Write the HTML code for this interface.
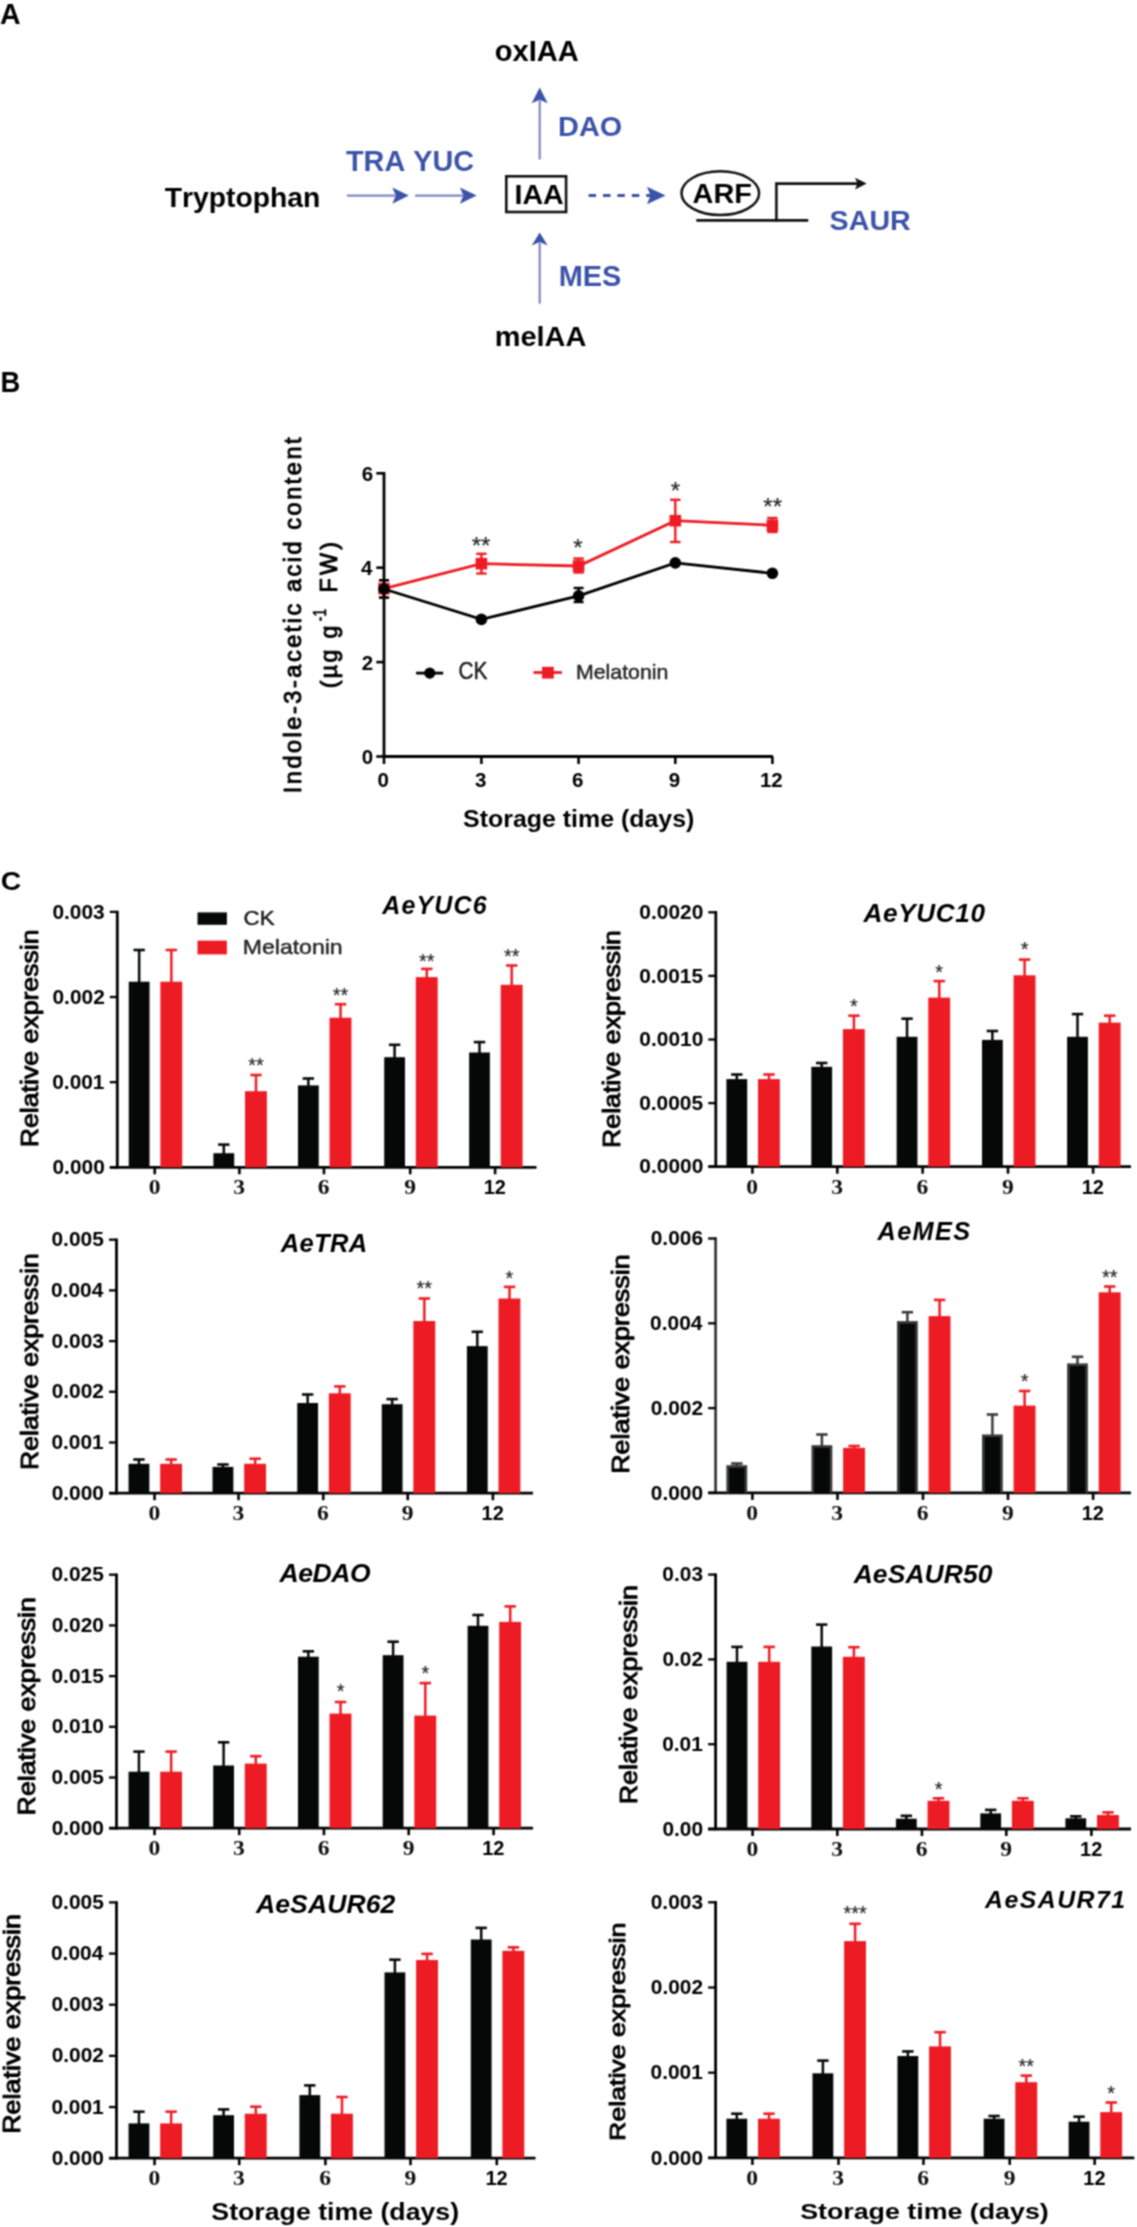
<!DOCTYPE html>
<html><head><meta charset="utf-8"><title>Figure</title>
<style>html,body{margin:0;padding:0;background:#fff;} svg{display:block;will-change:transform;} text{font-kerning:none;}</style>
</head><body>
<svg width="1137" height="2227" viewBox="0 0 1137 2227">
<defs><filter id="bl" filterUnits="userSpaceOnUse" x="0" y="0" width="1137" height="2227" color-interpolation-filters="sRGB"><feConvolveMatrix order="3" kernelMatrix="1 2 1 2 4 2 1 2 1" divisor="16.0" edgeMode="duplicate" preserveAlpha="true"/></filter></defs>
<g filter="url(#bl)">
<rect width="1137" height="2227" fill="#fff"/>
<text transform="translate(-0.11,23.55) scale(0.9937,1)" font-size="28.69" font-family='"Liberation Sans", sans-serif' font-weight="bold" font-style="normal" fill="#000">A</text>
<text transform="translate(494.79,60.75) scale(1.0034,1)" font-size="28.98" font-family='"Liberation Sans", sans-serif' font-weight="bold" font-style="normal" fill="#000">oxIAA</text>
<text transform="translate(558.02,135.75) scale(1.0122,1)" font-size="28.56" font-family='"Liberation Sans", sans-serif' font-weight="bold" font-style="normal" fill="#3c53a8">DAO</text>
<text transform="translate(345.96,170.55) scale(0.9942,1)" font-size="29.00" font-family='"Liberation Sans", sans-serif' font-weight="bold" font-style="normal" fill="#3c53a8">TRA YUC</text>
<text transform="translate(164.67,206.55) scale(1.0289,1)" font-size="27.51" font-family='"Liberation Sans", sans-serif' font-weight="bold" font-style="normal" fill="#000">Tryptophan</text>
<text transform="translate(514.54,203.55) scale(1.0442,1)" font-size="27.38" font-family='"Liberation Sans", sans-serif' font-weight="bold" font-style="normal" fill="#000">IAA</text>
<text transform="translate(692.58,203.25) scale(1.0706,1)" font-size="26.94" font-family='"Liberation Sans", sans-serif' font-weight="bold" font-style="normal" fill="#000">ARF</text>
<text transform="translate(829.59,229.55) scale(1.0087,1)" font-size="28.42" font-family='"Liberation Sans", sans-serif' font-weight="bold" font-style="normal" fill="#3c53a8">SAUR</text>
<text transform="translate(558.72,285.65) scale(0.9978,1)" font-size="29.00" font-family='"Liberation Sans", sans-serif' font-weight="bold" font-style="normal" fill="#3c53a8">MES</text>
<text transform="translate(494.72,346.25) scale(1.0474,1)" font-size="27.65" font-family='"Liberation Sans", sans-serif' font-weight="bold" font-style="normal" fill="#000">melAA</text>
<line x1="539.70" y1="159.40" x2="539.70" y2="100.30" stroke="#7f84c3" stroke-width="2.2" />
<polygon points="539.70,87.60 531.70,103.30 539.70,99.80 547.70,103.30" fill="#3c53a8"/>
<line x1="539.70" y1="303.70" x2="539.70" y2="242.60" stroke="#7f84c3" stroke-width="2.2" />
<polygon points="539.70,232.40 531.70,245.60 539.70,242.10 547.70,245.60" fill="#3c53a8"/>
<line x1="346.90" y1="195.60" x2="395.30" y2="195.60" stroke="#7f84c3" stroke-width="2.2" />
<polygon points="408.80,195.60 392.30,187.40 395.80,195.60 392.30,203.80" fill="#3c53a8"/>
<line x1="415.10" y1="195.60" x2="462.90" y2="195.60" stroke="#7f84c3" stroke-width="2.2" />
<polygon points="476.70,195.60 459.90,187.40 463.40,195.60 459.90,203.80" fill="#3c53a8"/>
<line x1="588.60" y1="195.50" x2="651.00" y2="195.50" stroke="#3c53a8" stroke-width="3.0" stroke-dasharray="7.5,6.9"/>
<polygon points="665.60,195.50 647.00,186.70 650.50,195.50 647.00,204.30" fill="#3c53a8"/>
<rect x="506.3" y="176.3" width="59.8" height="35.7" fill="none" stroke="#111" stroke-width="2.6"/>
<ellipse cx="720.3" cy="193.2" rx="38.8" ry="21.9" fill="none" stroke="#111" stroke-width="2.5"/>
<polyline points="696.3,220.4 808.3,220.4" fill="none" stroke="#111" stroke-width="2.8"/>
<polyline points="776.4,221.5 776.4,183.6 858,183.6" fill="none" stroke="#111" stroke-width="2.6"/>
<polygon points="866.70,183.60 855.00,177.80 857.50,183.60 855.00,189.40" fill="#111"/>
<text transform="translate(0.52,391.95) scale(0.9494,1)" font-size="28.83" font-family='"Liberation Sans", sans-serif' font-weight="bold" font-style="normal" fill="#000">B</text>
<line x1="384.00" y1="472.00" x2="384.00" y2="757.80" stroke="#000" stroke-width="2.8" />
<line x1="382.70" y1="756.50" x2="773.00" y2="756.50" stroke="#000" stroke-width="2.8" />
<line x1="376.30" y1="756.50" x2="384.00" y2="756.50" stroke="#000" stroke-width="2.6" />
<text transform="translate(361.71,764.00) scale(1.0000,1)" font-size="20.50" font-family='"Liberation Sans", sans-serif' font-weight="bold" font-style="normal" fill="#000">0</text>
<line x1="376.30" y1="662.10" x2="384.00" y2="662.10" stroke="#000" stroke-width="2.6" />
<text transform="translate(361.71,669.60) scale(1.0000,1)" font-size="20.50" font-family='"Liberation Sans", sans-serif' font-weight="bold" font-style="normal" fill="#000">2</text>
<line x1="376.30" y1="567.70" x2="384.00" y2="567.70" stroke="#000" stroke-width="2.6" />
<text transform="translate(361.03,575.20) scale(1.0000,1)" font-size="20.50" font-family='"Liberation Sans", sans-serif' font-weight="bold" font-style="normal" fill="#000">4</text>
<line x1="376.30" y1="473.30" x2="384.00" y2="473.30" stroke="#000" stroke-width="2.6" />
<text transform="translate(361.64,480.80) scale(1.0000,1)" font-size="20.50" font-family='"Liberation Sans", sans-serif' font-weight="bold" font-style="normal" fill="#000">6</text>
<line x1="384.00" y1="756.50" x2="384.00" y2="764.00" stroke="#000" stroke-width="2.6" />
<text transform="translate(377.49,787.40) scale(1.0000,1)" font-size="20.50" font-family='"Liberation Sans", sans-serif' font-weight="bold" font-style="normal" fill="#000">0</text>
<line x1="481.40" y1="756.50" x2="481.40" y2="764.00" stroke="#000" stroke-width="2.6" />
<text transform="translate(475.03,787.40) scale(1.0000,1)" font-size="20.50" font-family='"Liberation Sans", sans-serif' font-weight="bold" font-style="normal" fill="#000">3</text>
<line x1="578.60" y1="756.50" x2="578.60" y2="764.00" stroke="#000" stroke-width="2.6" />
<text transform="translate(572.09,787.40) scale(1.0000,1)" font-size="20.50" font-family='"Liberation Sans", sans-serif' font-weight="bold" font-style="normal" fill="#000">6</text>
<line x1="675.30" y1="756.50" x2="675.30" y2="764.00" stroke="#000" stroke-width="2.6" />
<text transform="translate(668.83,787.40) scale(1.0000,1)" font-size="20.50" font-family='"Liberation Sans", sans-serif' font-weight="bold" font-style="normal" fill="#000">9</text>
<line x1="772.40" y1="756.50" x2="772.40" y2="764.00" stroke="#000" stroke-width="2.6" />
<text transform="translate(759.95,787.40) scale(1.0000,1)" font-size="20.50" font-family='"Liberation Sans", sans-serif' font-weight="bold" font-style="normal" fill="#000">12</text>
<polyline points="384.0,588.6 481.4,563.7 578.6,566.0 675.3,520.7 772.4,525.3" fill="none" stroke="#ed1c24" stroke-width="2.8"/>
<line x1="384.00" y1="580.20" x2="384.00" y2="597.60" stroke="#ed1c24" stroke-width="2.4" />
<line x1="378.80" y1="580.20" x2="389.20" y2="580.20" stroke="#ed1c24" stroke-width="2.4" />
<line x1="378.80" y1="597.60" x2="389.20" y2="597.60" stroke="#ed1c24" stroke-width="2.4" />
<rect x="378.20" y="582.80" width="11.60" height="11.60" fill="#ed1c24"/>
<line x1="481.40" y1="553.80" x2="481.40" y2="573.50" stroke="#ed1c24" stroke-width="2.4" />
<line x1="476.20" y1="553.80" x2="486.60" y2="553.80" stroke="#ed1c24" stroke-width="2.4" />
<line x1="476.20" y1="573.50" x2="486.60" y2="573.50" stroke="#ed1c24" stroke-width="2.4" />
<rect x="475.60" y="557.90" width="11.60" height="11.60" fill="#ed1c24"/>
<line x1="578.60" y1="558.50" x2="578.60" y2="572.50" stroke="#ed1c24" stroke-width="2.4" />
<line x1="573.40" y1="558.50" x2="583.80" y2="558.50" stroke="#ed1c24" stroke-width="2.4" />
<line x1="573.40" y1="572.50" x2="583.80" y2="572.50" stroke="#ed1c24" stroke-width="2.4" />
<rect x="572.80" y="560.20" width="11.60" height="11.60" fill="#ed1c24"/>
<line x1="675.30" y1="499.80" x2="675.30" y2="542.00" stroke="#ed1c24" stroke-width="2.4" />
<line x1="670.10" y1="499.80" x2="680.50" y2="499.80" stroke="#ed1c24" stroke-width="2.4" />
<line x1="670.10" y1="542.00" x2="680.50" y2="542.00" stroke="#ed1c24" stroke-width="2.4" />
<rect x="669.50" y="514.90" width="11.60" height="11.60" fill="#ed1c24"/>
<line x1="772.40" y1="518.00" x2="772.40" y2="532.00" stroke="#ed1c24" stroke-width="2.4" />
<line x1="767.20" y1="518.00" x2="777.60" y2="518.00" stroke="#ed1c24" stroke-width="2.4" />
<line x1="767.20" y1="532.00" x2="777.60" y2="532.00" stroke="#ed1c24" stroke-width="2.4" />
<rect x="766.60" y="519.50" width="11.60" height="11.60" fill="#ed1c24"/>
<polyline points="384.0,589.0 481.4,619.4 578.6,595.8 675.3,562.9 772.4,573.3" fill="none" stroke="#000" stroke-width="2.8"/>
<line x1="384.00" y1="580.20" x2="384.00" y2="597.60" stroke="#000" stroke-width="2.4" />
<line x1="379.00" y1="580.20" x2="389.00" y2="580.20" stroke="#000" stroke-width="2.4" />
<line x1="379.00" y1="597.60" x2="389.00" y2="597.60" stroke="#000" stroke-width="2.4" />
<circle cx="384.0" cy="589.0" r="5.8" fill="#000"/>
<circle cx="481.4" cy="619.4" r="5.8" fill="#000"/>
<line x1="578.60" y1="588.00" x2="578.60" y2="602.00" stroke="#000" stroke-width="2.4" />
<line x1="573.60" y1="588.00" x2="583.60" y2="588.00" stroke="#000" stroke-width="2.4" />
<line x1="573.60" y1="602.00" x2="583.60" y2="602.00" stroke="#000" stroke-width="2.4" />
<circle cx="578.6" cy="595.8" r="5.8" fill="#000"/>
<circle cx="675.3" cy="562.9" r="5.8" fill="#000"/>
<circle cx="772.4" cy="573.3" r="5.8" fill="#000"/>
<text x="471.74" y="554.08" font-size="24.00" font-family='"Liberation Sans", sans-serif' font-weight="normal" font-style="normal" fill="#222" stroke="#222" stroke-width="0.15" stroke-linejoin="round">**</text>
<text x="573.22" y="556.28" font-size="24.00" font-family='"Liberation Sans", sans-serif' font-weight="normal" font-style="normal" fill="#222" stroke="#222" stroke-width="0.15" stroke-linejoin="round">*</text>
<text x="670.82" y="498.68" font-size="24.00" font-family='"Liberation Sans", sans-serif' font-weight="normal" font-style="normal" fill="#222" stroke="#222" stroke-width="0.15" stroke-linejoin="round">*</text>
<text x="763.34" y="515.28" font-size="24.00" font-family='"Liberation Sans", sans-serif' font-weight="normal" font-style="normal" fill="#222" stroke="#222" stroke-width="0.15" stroke-linejoin="round">**</text>
<line x1="416.10" y1="673.10" x2="443.20" y2="673.10" stroke="#000" stroke-width="2.8" />
<circle cx="429.8" cy="673.1" r="5.6" fill="#000"/>
<text transform="translate(458.43,678.83) scale(0.8881,1)" font-size="23.47" font-family='"Liberation Sans", sans-serif' font-weight="normal" font-style="normal" fill="#1c1c1c" stroke="#1c1c1c" stroke-width="0.45" stroke-linejoin="round">CK</text>
<line x1="533.50" y1="672.50" x2="561.90" y2="672.50" stroke="#ed1c24" stroke-width="2.8" />
<rect x="542.00" y="666.80" width="11.80" height="11.80" fill="#ed1c24"/>
<text transform="translate(576.00,678.73) scale(1.0525,1)" font-size="20.25" font-family='"Liberation Sans", sans-serif' font-weight="normal" font-style="normal" fill="#262626" stroke="#262626" stroke-width="0.45" stroke-linejoin="round">Melatonin</text>
<text transform="translate(463.10,826.95) scale(1.0731,1)" font-size="23.23" font-family='"Liberation Sans", sans-serif' font-weight="bold" font-style="normal" fill="#000">Storage time (days)</text>
<text transform="translate(301.47,793.28) rotate(-90)" font-size="23.57" letter-spacing="2.508" font-family='"Liberation Sans", sans-serif' font-weight="normal" font-style="normal" fill="#000" stroke="#000" stroke-width="0.95" stroke-linejoin="round">Indole-3-acetic acid content</text>
<text transform="translate(336.88,688.15) rotate(-90)" font-size="23.29" letter-spacing="2.250" font-family='"Liberation Sans", sans-serif' font-weight="normal" font-style="normal" fill="#000" stroke="#000" stroke-width="0.95" stroke-linejoin="round">(µg g</text>
<text transform="translate(336.88,592.52) rotate(-90)" font-size="23.29" letter-spacing="3.258" font-family='"Liberation Sans", sans-serif' font-weight="normal" font-style="normal" fill="#000" stroke="#000" stroke-width="0.95" stroke-linejoin="round">FW)</text>
<text transform="translate(325.60,621.53) rotate(-90) scale(0.8129,1)" font-size="17.91" font-family='"Liberation Sans", sans-serif' font-weight="normal" font-style="normal" fill="#000" stroke="#000" stroke-width="0.5" stroke-linejoin="round">-1</text>
<text transform="translate(0.72,889.85) scale(1.0959,1)" font-size="25.84" font-family='"Liberation Sans", sans-serif' font-weight="bold" font-style="normal" fill="#000">C</text>
<line x1="117.30" y1="910.70" x2="117.30" y2="1168.50" stroke="#000" stroke-width="2.8" />
<line x1="109.80" y1="1167.30" x2="536.50" y2="1167.30" stroke="#000" stroke-width="2.8" />
<line x1="109.80" y1="1167.30" x2="117.30" y2="1167.30" stroke="#000" stroke-width="2.3" />
<text transform="translate(52.49,1173.90) scale(1.0200,1)" font-size="20.50" font-family='"Liberation Sans", sans-serif' font-weight="bold" font-style="normal" fill="#000">0.000</text>
<line x1="109.80" y1="1082.17" x2="117.30" y2="1082.17" stroke="#000" stroke-width="2.3" />
<text transform="translate(52.21,1088.77) scale(1.0200,1)" font-size="20.50" font-family='"Liberation Sans", sans-serif' font-weight="bold" font-style="normal" fill="#000">0.001</text>
<line x1="109.80" y1="997.03" x2="117.30" y2="997.03" stroke="#000" stroke-width="2.3" />
<text transform="translate(52.49,1003.63) scale(1.0200,1)" font-size="20.50" font-family='"Liberation Sans", sans-serif' font-weight="bold" font-style="normal" fill="#000">0.002</text>
<line x1="109.80" y1="911.90" x2="117.30" y2="911.90" stroke="#000" stroke-width="2.3" />
<text transform="translate(52.42,918.50) scale(1.0200,1)" font-size="20.50" font-family='"Liberation Sans", sans-serif' font-weight="bold" font-style="normal" fill="#000">0.003</text>
<line x1="154.75" y1="1167.30" x2="154.75" y2="1174.30" stroke="#000" stroke-width="2.6" />
<text transform="translate(148.66,1194.30) scale(1.1500,1)" font-size="20.50" font-family='"Liberation Serif", serif' font-weight="bold" font-style="normal" fill="#111">0</text>
<line x1="239.40" y1="1167.30" x2="239.40" y2="1174.30" stroke="#000" stroke-width="2.6" />
<text transform="translate(233.27,1194.30) scale(1.1500,1)" font-size="20.50" font-family='"Liberation Serif", serif' font-weight="bold" font-style="normal" fill="#111">3</text>
<line x1="323.95" y1="1167.30" x2="323.95" y2="1174.30" stroke="#000" stroke-width="2.6" />
<text transform="translate(317.82,1194.30) scale(1.1500,1)" font-size="20.50" font-family='"Liberation Serif", serif' font-weight="bold" font-style="normal" fill="#111">6</text>
<line x1="410.20" y1="1167.30" x2="410.20" y2="1174.30" stroke="#000" stroke-width="2.6" />
<text transform="translate(404.22,1194.30) scale(1.1500,1)" font-size="20.50" font-family='"Liberation Serif", serif' font-weight="bold" font-style="normal" fill="#111">9</text>
<line x1="495.10" y1="1167.30" x2="495.10" y2="1174.30" stroke="#000" stroke-width="2.6" />
<text transform="translate(483.73,1194.30) scale(1.0000,1)" font-size="20.00" font-family='"Liberation Sans", sans-serif' font-weight="bold" font-style="normal" fill="#000">12</text>
<line x1="139.15" y1="950.00" x2="139.15" y2="982.70" stroke="#060808" stroke-width="2.5" />
<line x1="133.45" y1="950.00" x2="144.85" y2="950.00" stroke="#060808" stroke-width="2.6" />
<rect x="128.75" y="981.70" width="20.80" height="185.60" fill="#060808"/>
<line x1="171.35" y1="950.00" x2="171.35" y2="982.70" stroke="#ed1c24" stroke-width="2.5" />
<line x1="165.65" y1="950.00" x2="177.05" y2="950.00" stroke="#ed1c24" stroke-width="2.6" />
<rect x="160.35" y="981.70" width="21.90" height="185.60" fill="#ed1c24"/>
<line x1="223.80" y1="1144.60" x2="223.80" y2="1154.20" stroke="#060808" stroke-width="2.5" />
<line x1="218.10" y1="1144.60" x2="229.50" y2="1144.60" stroke="#060808" stroke-width="2.6" />
<rect x="213.40" y="1153.20" width="20.80" height="14.10" fill="#060808"/>
<line x1="256.00" y1="1075.00" x2="256.00" y2="1092.20" stroke="#ed1c24" stroke-width="2.5" />
<line x1="250.30" y1="1075.00" x2="261.70" y2="1075.00" stroke="#ed1c24" stroke-width="2.6" />
<rect x="245.00" y="1091.20" width="21.90" height="76.10" fill="#ed1c24"/>
<line x1="308.35" y1="1078.50" x2="308.35" y2="1086.40" stroke="#060808" stroke-width="2.5" />
<line x1="302.65" y1="1078.50" x2="314.05" y2="1078.50" stroke="#060808" stroke-width="2.6" />
<rect x="297.95" y="1085.40" width="20.80" height="81.90" fill="#060808"/>
<line x1="340.55" y1="1004.20" x2="340.55" y2="1018.70" stroke="#ed1c24" stroke-width="2.5" />
<line x1="334.85" y1="1004.20" x2="346.25" y2="1004.20" stroke="#ed1c24" stroke-width="2.6" />
<rect x="329.55" y="1017.70" width="21.90" height="149.60" fill="#ed1c24"/>
<line x1="394.60" y1="1044.80" x2="394.60" y2="1058.20" stroke="#060808" stroke-width="2.5" />
<line x1="388.90" y1="1044.80" x2="400.30" y2="1044.80" stroke="#060808" stroke-width="2.6" />
<rect x="384.20" y="1057.20" width="20.80" height="110.10" fill="#060808"/>
<line x1="426.80" y1="968.90" x2="426.80" y2="978.10" stroke="#ed1c24" stroke-width="2.5" />
<line x1="421.10" y1="968.90" x2="432.50" y2="968.90" stroke="#ed1c24" stroke-width="2.6" />
<rect x="415.80" y="977.10" width="21.90" height="190.20" fill="#ed1c24"/>
<line x1="479.50" y1="1042.10" x2="479.50" y2="1053.50" stroke="#060808" stroke-width="2.5" />
<line x1="473.80" y1="1042.10" x2="485.20" y2="1042.10" stroke="#060808" stroke-width="2.6" />
<rect x="469.10" y="1052.50" width="20.80" height="114.80" fill="#060808"/>
<line x1="511.70" y1="965.50" x2="511.70" y2="985.80" stroke="#ed1c24" stroke-width="2.5" />
<line x1="506.00" y1="965.50" x2="517.40" y2="965.50" stroke="#ed1c24" stroke-width="2.6" />
<rect x="500.70" y="984.80" width="21.90" height="182.50" fill="#ed1c24"/>
<text x="248.20" y="1072.43" font-size="20.00" font-family='"Liberation Sans", sans-serif' font-weight="normal" font-style="normal" fill="#1a1a1a" stroke="#1a1a1a" stroke-width="0.15" stroke-linejoin="round">**</text>
<text x="332.75" y="1001.93" font-size="20.00" font-family='"Liberation Sans", sans-serif' font-weight="normal" font-style="normal" fill="#1a1a1a" stroke="#1a1a1a" stroke-width="0.15" stroke-linejoin="round">**</text>
<text x="419.00" y="967.83" font-size="20.00" font-family='"Liberation Sans", sans-serif' font-weight="normal" font-style="normal" fill="#1a1a1a" stroke="#1a1a1a" stroke-width="0.15" stroke-linejoin="round">**</text>
<text x="503.90" y="963.23" font-size="20.00" font-family='"Liberation Sans", sans-serif' font-weight="normal" font-style="normal" fill="#1a1a1a" stroke="#1a1a1a" stroke-width="0.15" stroke-linejoin="round">**</text>
<text x="382.35" y="913.75" font-size="24.98" letter-spacing="1.149" font-family='"Liberation Sans", sans-serif' font-weight="bold" font-style="italic" fill="#000">AeYUC6</text>
<text transform="translate(37.58,1147.20) rotate(-90) scale(1.0928,1)" font-size="24.40" font-family='"Liberation Sans", sans-serif' font-weight="normal" font-style="normal" fill="#000" stroke="#000" stroke-width="0.95" stroke-linejoin="round">Relative expressin</text>
<line x1="715.80" y1="911.10" x2="715.80" y2="1167.90" stroke="#000" stroke-width="2.8" />
<line x1="708.30" y1="1166.70" x2="1131.00" y2="1166.70" stroke="#000" stroke-width="2.8" />
<line x1="708.30" y1="1166.70" x2="715.80" y2="1166.70" stroke="#000" stroke-width="2.3" />
<text transform="translate(639.35,1173.30) scale(1.0200,1)" font-size="20.50" font-family='"Liberation Sans", sans-serif' font-weight="bold" font-style="normal" fill="#000">0.0000</text>
<line x1="708.30" y1="1103.10" x2="715.80" y2="1103.10" stroke="#000" stroke-width="2.3" />
<text transform="translate(639.14,1109.70) scale(1.0200,1)" font-size="20.50" font-family='"Liberation Sans", sans-serif' font-weight="bold" font-style="normal" fill="#000">0.0005</text>
<line x1="708.30" y1="1039.50" x2="715.80" y2="1039.50" stroke="#000" stroke-width="2.3" />
<text transform="translate(639.35,1046.10) scale(1.0200,1)" font-size="20.50" font-family='"Liberation Sans", sans-serif' font-weight="bold" font-style="normal" fill="#000">0.0010</text>
<line x1="708.30" y1="975.90" x2="715.80" y2="975.90" stroke="#000" stroke-width="2.3" />
<text transform="translate(639.14,982.50) scale(1.0200,1)" font-size="20.50" font-family='"Liberation Sans", sans-serif' font-weight="bold" font-style="normal" fill="#000">0.0015</text>
<line x1="708.30" y1="912.30" x2="715.80" y2="912.30" stroke="#000" stroke-width="2.3" />
<text transform="translate(639.35,918.90) scale(1.0200,1)" font-size="20.50" font-family='"Liberation Sans", sans-serif' font-weight="bold" font-style="normal" fill="#000">0.0020</text>
<line x1="752.40" y1="1166.70" x2="752.40" y2="1173.70" stroke="#000" stroke-width="2.6" />
<text transform="translate(746.31,1193.70) scale(1.1500,1)" font-size="20.50" font-family='"Liberation Serif", serif' font-weight="bold" font-style="normal" fill="#111">0</text>
<line x1="837.30" y1="1166.70" x2="837.30" y2="1173.70" stroke="#000" stroke-width="2.6" />
<text transform="translate(831.17,1193.70) scale(1.1500,1)" font-size="20.50" font-family='"Liberation Serif", serif' font-weight="bold" font-style="normal" fill="#111">3</text>
<line x1="922.65" y1="1166.70" x2="922.65" y2="1173.70" stroke="#000" stroke-width="2.6" />
<text transform="translate(916.52,1193.70) scale(1.1500,1)" font-size="20.50" font-family='"Liberation Serif", serif' font-weight="bold" font-style="normal" fill="#111">6</text>
<line x1="1008.00" y1="1166.70" x2="1008.00" y2="1173.70" stroke="#000" stroke-width="2.6" />
<text transform="translate(1002.02,1193.70) scale(1.1500,1)" font-size="20.50" font-family='"Liberation Serif", serif' font-weight="bold" font-style="normal" fill="#111">9</text>
<line x1="1093.10" y1="1166.70" x2="1093.10" y2="1173.70" stroke="#000" stroke-width="2.6" />
<text transform="translate(1081.73,1193.70) scale(1.0000,1)" font-size="20.00" font-family='"Liberation Sans", sans-serif' font-weight="bold" font-style="normal" fill="#000">12</text>
<line x1="736.80" y1="1074.50" x2="736.80" y2="1080.10" stroke="#060808" stroke-width="2.5" />
<line x1="731.10" y1="1074.50" x2="742.50" y2="1074.50" stroke="#060808" stroke-width="2.6" />
<rect x="726.40" y="1079.10" width="20.80" height="87.60" fill="#060808"/>
<line x1="769.00" y1="1074.50" x2="769.00" y2="1080.10" stroke="#ed1c24" stroke-width="2.5" />
<line x1="763.30" y1="1074.50" x2="774.70" y2="1074.50" stroke="#ed1c24" stroke-width="2.6" />
<rect x="758.00" y="1079.10" width="21.90" height="87.60" fill="#ed1c24"/>
<line x1="821.70" y1="1063.00" x2="821.70" y2="1067.80" stroke="#060808" stroke-width="2.5" />
<line x1="816.00" y1="1063.00" x2="827.40" y2="1063.00" stroke="#060808" stroke-width="2.6" />
<rect x="811.30" y="1066.80" width="20.80" height="99.90" fill="#060808"/>
<line x1="853.90" y1="1015.70" x2="853.90" y2="1030.10" stroke="#ed1c24" stroke-width="2.5" />
<line x1="848.20" y1="1015.70" x2="859.60" y2="1015.70" stroke="#ed1c24" stroke-width="2.6" />
<rect x="842.90" y="1029.10" width="21.90" height="137.60" fill="#ed1c24"/>
<line x1="907.05" y1="1018.70" x2="907.05" y2="1037.80" stroke="#060808" stroke-width="2.5" />
<line x1="901.35" y1="1018.70" x2="912.75" y2="1018.70" stroke="#060808" stroke-width="2.6" />
<rect x="896.65" y="1036.80" width="20.80" height="129.90" fill="#060808"/>
<line x1="939.25" y1="981.10" x2="939.25" y2="998.60" stroke="#ed1c24" stroke-width="2.5" />
<line x1="933.55" y1="981.10" x2="944.95" y2="981.10" stroke="#ed1c24" stroke-width="2.6" />
<rect x="928.25" y="997.60" width="21.90" height="169.10" fill="#ed1c24"/>
<line x1="992.40" y1="1031.00" x2="992.40" y2="1040.90" stroke="#060808" stroke-width="2.5" />
<line x1="986.70" y1="1031.00" x2="998.10" y2="1031.00" stroke="#060808" stroke-width="2.6" />
<rect x="982.00" y="1039.90" width="20.80" height="126.80" fill="#060808"/>
<line x1="1024.60" y1="959.60" x2="1024.60" y2="976.30" stroke="#ed1c24" stroke-width="2.5" />
<line x1="1018.90" y1="959.60" x2="1030.30" y2="959.60" stroke="#ed1c24" stroke-width="2.6" />
<rect x="1013.60" y="975.30" width="21.90" height="191.40" fill="#ed1c24"/>
<line x1="1077.50" y1="1014.10" x2="1077.50" y2="1037.80" stroke="#060808" stroke-width="2.5" />
<line x1="1071.80" y1="1014.10" x2="1083.20" y2="1014.10" stroke="#060808" stroke-width="2.6" />
<rect x="1067.10" y="1036.80" width="20.80" height="129.90" fill="#060808"/>
<line x1="1109.70" y1="1015.70" x2="1109.70" y2="1023.60" stroke="#ed1c24" stroke-width="2.5" />
<line x1="1104.00" y1="1015.70" x2="1115.40" y2="1015.70" stroke="#ed1c24" stroke-width="2.6" />
<rect x="1098.70" y="1022.60" width="21.90" height="144.10" fill="#ed1c24"/>
<text x="850.00" y="1013.43" font-size="20.00" font-family='"Liberation Sans", sans-serif' font-weight="normal" font-style="normal" fill="#1a1a1a" stroke="#1a1a1a" stroke-width="0.15" stroke-linejoin="round">*</text>
<text x="935.35" y="978.93" font-size="20.00" font-family='"Liberation Sans", sans-serif' font-weight="normal" font-style="normal" fill="#1a1a1a" stroke="#1a1a1a" stroke-width="0.15" stroke-linejoin="round">*</text>
<text x="1020.70" y="956.23" font-size="20.00" font-family='"Liberation Sans", sans-serif' font-weight="normal" font-style="normal" fill="#1a1a1a" stroke="#1a1a1a" stroke-width="0.15" stroke-linejoin="round">*</text>
<text x="863.47" y="922.25" font-size="26.12" letter-spacing="0.649" font-family='"Liberation Sans", sans-serif' font-weight="bold" font-style="italic" fill="#000">AeYUC10</text>
<text transform="translate(619.58,1147.90) rotate(-90) scale(1.0933,1)" font-size="24.40" font-family='"Liberation Sans", sans-serif' font-weight="normal" font-style="normal" fill="#000" stroke="#000" stroke-width="0.95" stroke-linejoin="round">Relative expressin</text>
<line x1="116.50" y1="1238.50" x2="116.50" y2="1494.40" stroke="#000" stroke-width="2.8" />
<line x1="109.00" y1="1493.20" x2="533.00" y2="1493.20" stroke="#000" stroke-width="2.8" />
<line x1="109.00" y1="1493.20" x2="116.50" y2="1493.20" stroke="#000" stroke-width="2.3" />
<text transform="translate(51.69,1499.80) scale(1.0200,1)" font-size="20.50" font-family='"Liberation Sans", sans-serif' font-weight="bold" font-style="normal" fill="#000">0.000</text>
<line x1="109.00" y1="1442.50" x2="116.50" y2="1442.50" stroke="#000" stroke-width="2.3" />
<text transform="translate(51.41,1449.10) scale(1.0200,1)" font-size="20.50" font-family='"Liberation Sans", sans-serif' font-weight="bold" font-style="normal" fill="#000">0.001</text>
<line x1="109.00" y1="1391.80" x2="116.50" y2="1391.80" stroke="#000" stroke-width="2.3" />
<text transform="translate(51.69,1398.40) scale(1.0200,1)" font-size="20.50" font-family='"Liberation Sans", sans-serif' font-weight="bold" font-style="normal" fill="#000">0.002</text>
<line x1="109.00" y1="1341.10" x2="116.50" y2="1341.10" stroke="#000" stroke-width="2.3" />
<text transform="translate(51.62,1347.70) scale(1.0200,1)" font-size="20.50" font-family='"Liberation Sans", sans-serif' font-weight="bold" font-style="normal" fill="#000">0.003</text>
<line x1="109.00" y1="1290.40" x2="116.50" y2="1290.40" stroke="#000" stroke-width="2.3" />
<text transform="translate(50.99,1297.00) scale(1.0200,1)" font-size="20.50" font-family='"Liberation Sans", sans-serif' font-weight="bold" font-style="normal" fill="#000">0.004</text>
<line x1="109.00" y1="1239.70" x2="116.50" y2="1239.70" stroke="#000" stroke-width="2.3" />
<text transform="translate(51.48,1246.30) scale(1.0200,1)" font-size="20.50" font-family='"Liberation Sans", sans-serif' font-weight="bold" font-style="normal" fill="#000">0.005</text>
<line x1="154.55" y1="1493.20" x2="154.55" y2="1500.20" stroke="#000" stroke-width="2.6" />
<text transform="translate(148.46,1520.20) scale(1.1500,1)" font-size="20.50" font-family='"Liberation Serif", serif' font-weight="bold" font-style="normal" fill="#111">0</text>
<line x1="238.55" y1="1493.20" x2="238.55" y2="1500.20" stroke="#000" stroke-width="2.6" />
<text transform="translate(232.42,1520.20) scale(1.1500,1)" font-size="20.50" font-family='"Liberation Serif", serif' font-weight="bold" font-style="normal" fill="#111">3</text>
<line x1="323.25" y1="1493.20" x2="323.25" y2="1500.20" stroke="#000" stroke-width="2.6" />
<text transform="translate(317.12,1520.20) scale(1.1500,1)" font-size="20.50" font-family='"Liberation Serif", serif' font-weight="bold" font-style="normal" fill="#111">6</text>
<line x1="407.75" y1="1493.20" x2="407.75" y2="1500.20" stroke="#000" stroke-width="2.6" />
<text transform="translate(401.77,1520.20) scale(1.1500,1)" font-size="20.50" font-family='"Liberation Serif", serif' font-weight="bold" font-style="normal" fill="#111">9</text>
<line x1="492.90" y1="1493.20" x2="492.90" y2="1500.20" stroke="#000" stroke-width="2.6" />
<text transform="translate(481.53,1520.20) scale(1.0000,1)" font-size="20.00" font-family='"Liberation Sans", sans-serif' font-weight="bold" font-style="normal" fill="#000">12</text>
<line x1="138.95" y1="1459.50" x2="138.95" y2="1464.80" stroke="#060808" stroke-width="2.5" />
<line x1="133.25" y1="1459.50" x2="144.65" y2="1459.50" stroke="#060808" stroke-width="2.6" />
<rect x="128.55" y="1463.80" width="20.80" height="29.40" fill="#060808"/>
<line x1="171.15" y1="1459.50" x2="171.15" y2="1464.80" stroke="#ed1c24" stroke-width="2.5" />
<line x1="165.45" y1="1459.50" x2="176.85" y2="1459.50" stroke="#ed1c24" stroke-width="2.6" />
<rect x="160.15" y="1463.80" width="21.90" height="29.40" fill="#ed1c24"/>
<line x1="222.95" y1="1464.50" x2="222.95" y2="1467.90" stroke="#060808" stroke-width="2.5" />
<line x1="217.25" y1="1464.50" x2="228.65" y2="1464.50" stroke="#060808" stroke-width="2.6" />
<rect x="212.55" y="1466.90" width="20.80" height="26.30" fill="#060808"/>
<line x1="255.15" y1="1458.70" x2="255.15" y2="1464.80" stroke="#ed1c24" stroke-width="2.5" />
<line x1="249.45" y1="1458.70" x2="260.85" y2="1458.70" stroke="#ed1c24" stroke-width="2.6" />
<rect x="244.15" y="1463.80" width="21.90" height="29.40" fill="#ed1c24"/>
<line x1="307.65" y1="1394.50" x2="307.65" y2="1404.00" stroke="#060808" stroke-width="2.5" />
<line x1="301.95" y1="1394.50" x2="313.35" y2="1394.50" stroke="#060808" stroke-width="2.6" />
<rect x="297.25" y="1403.00" width="20.80" height="90.20" fill="#060808"/>
<line x1="339.85" y1="1386.40" x2="339.85" y2="1394.30" stroke="#ed1c24" stroke-width="2.5" />
<line x1="334.15" y1="1386.40" x2="345.55" y2="1386.40" stroke="#ed1c24" stroke-width="2.6" />
<rect x="328.85" y="1393.30" width="21.90" height="99.90" fill="#ed1c24"/>
<line x1="392.15" y1="1399.10" x2="392.15" y2="1405.20" stroke="#060808" stroke-width="2.5" />
<line x1="386.45" y1="1399.10" x2="397.85" y2="1399.10" stroke="#060808" stroke-width="2.6" />
<rect x="381.75" y="1404.20" width="20.80" height="89.00" fill="#060808"/>
<line x1="424.35" y1="1298.50" x2="424.35" y2="1322.00" stroke="#ed1c24" stroke-width="2.5" />
<line x1="418.65" y1="1298.50" x2="430.05" y2="1298.50" stroke="#ed1c24" stroke-width="2.6" />
<rect x="413.35" y="1321.00" width="21.90" height="172.20" fill="#ed1c24"/>
<line x1="477.30" y1="1331.80" x2="477.30" y2="1347.10" stroke="#060808" stroke-width="2.5" />
<line x1="471.60" y1="1331.80" x2="483.00" y2="1331.80" stroke="#060808" stroke-width="2.6" />
<rect x="466.90" y="1346.10" width="20.80" height="147.10" fill="#060808"/>
<line x1="509.50" y1="1286.90" x2="509.50" y2="1299.50" stroke="#ed1c24" stroke-width="2.5" />
<line x1="503.80" y1="1286.90" x2="515.20" y2="1286.90" stroke="#ed1c24" stroke-width="2.6" />
<rect x="498.50" y="1298.50" width="21.90" height="194.70" fill="#ed1c24"/>
<text x="416.55" y="1295.13" font-size="20.00" font-family='"Liberation Sans", sans-serif' font-weight="normal" font-style="normal" fill="#1a1a1a" stroke="#1a1a1a" stroke-width="0.15" stroke-linejoin="round">**</text>
<text x="505.60" y="1285.43" font-size="20.00" font-family='"Liberation Sans", sans-serif' font-weight="normal" font-style="normal" fill="#1a1a1a" stroke="#1a1a1a" stroke-width="0.15" stroke-linejoin="round">*</text>
<text x="280.66" y="1252.15" font-size="25.49" letter-spacing="0.377" font-family='"Liberation Sans", sans-serif' font-weight="bold" font-style="italic" fill="#000">AeTRA</text>
<text transform="translate(38.28,1469.89) rotate(-90) scale(1.0750,1)" font-size="24.68" font-family='"Liberation Sans", sans-serif' font-weight="normal" font-style="normal" fill="#000" stroke="#000" stroke-width="0.95" stroke-linejoin="round">Relative expressin</text>
<line x1="715.60" y1="1237.30" x2="715.60" y2="1494.10" stroke="#3a3a3a" stroke-width="2.8" />
<line x1="708.10" y1="1492.90" x2="1131.00" y2="1492.90" stroke="#000" stroke-width="2.8" />
<line x1="708.10" y1="1492.90" x2="715.60" y2="1492.90" stroke="#000" stroke-width="2.3" />
<text transform="translate(650.79,1499.50) scale(1.0200,1)" font-size="20.50" font-family='"Liberation Sans", sans-serif' font-weight="bold" font-style="normal" fill="#000">0.000</text>
<line x1="708.10" y1="1408.10" x2="715.60" y2="1408.10" stroke="#000" stroke-width="2.3" />
<text transform="translate(650.79,1414.70) scale(1.0200,1)" font-size="20.50" font-family='"Liberation Sans", sans-serif' font-weight="bold" font-style="normal" fill="#000">0.002</text>
<line x1="708.10" y1="1323.30" x2="715.60" y2="1323.30" stroke="#000" stroke-width="2.3" />
<text transform="translate(650.09,1329.90) scale(1.0200,1)" font-size="20.50" font-family='"Liberation Sans", sans-serif' font-weight="bold" font-style="normal" fill="#000">0.004</text>
<line x1="708.10" y1="1238.50" x2="715.60" y2="1238.50" stroke="#000" stroke-width="2.3" />
<text transform="translate(650.72,1245.10) scale(1.0200,1)" font-size="20.50" font-family='"Liberation Sans", sans-serif' font-weight="bold" font-style="normal" fill="#000">0.006</text>
<line x1="752.40" y1="1492.90" x2="752.40" y2="1499.90" stroke="#000" stroke-width="2.6" />
<text transform="translate(746.31,1519.90) scale(1.1500,1)" font-size="20.50" font-family='"Liberation Serif", serif' font-weight="bold" font-style="normal" fill="#111">0</text>
<line x1="837.50" y1="1492.90" x2="837.50" y2="1499.90" stroke="#000" stroke-width="2.6" />
<text transform="translate(831.37,1519.90) scale(1.1500,1)" font-size="20.50" font-family='"Liberation Serif", serif' font-weight="bold" font-style="normal" fill="#111">3</text>
<line x1="923.00" y1="1492.90" x2="923.00" y2="1499.90" stroke="#000" stroke-width="2.6" />
<text transform="translate(916.87,1519.90) scale(1.1500,1)" font-size="20.50" font-family='"Liberation Serif", serif' font-weight="bold" font-style="normal" fill="#111">6</text>
<line x1="1008.00" y1="1492.90" x2="1008.00" y2="1499.90" stroke="#000" stroke-width="2.6" />
<text transform="translate(1002.02,1519.90) scale(1.1500,1)" font-size="20.50" font-family='"Liberation Serif", serif' font-weight="bold" font-style="normal" fill="#111">9</text>
<line x1="1093.10" y1="1492.90" x2="1093.10" y2="1499.90" stroke="#000" stroke-width="2.6" />
<text transform="translate(1081.73,1519.90) scale(1.0000,1)" font-size="20.00" font-family='"Liberation Sans", sans-serif' font-weight="bold" font-style="normal" fill="#000">12</text>
<line x1="736.80" y1="1463.50" x2="736.80" y2="1466.20" stroke="#3a3a3a" stroke-width="2.5" />
<line x1="731.10" y1="1463.50" x2="742.50" y2="1463.50" stroke="#3a3a3a" stroke-width="2.6" />
<rect x="726.40" y="1465.20" width="20.80" height="27.70" fill="#3a3a3a"/>
<rect x="729.00" y="1467.80" width="15.60" height="25.10" fill="#060808"/>
<line x1="821.90" y1="1434.50" x2="821.90" y2="1446.20" stroke="#3a3a3a" stroke-width="2.5" />
<line x1="816.20" y1="1434.50" x2="827.60" y2="1434.50" stroke="#3a3a3a" stroke-width="2.6" />
<rect x="811.50" y="1445.20" width="20.80" height="47.70" fill="#3a3a3a"/>
<rect x="814.10" y="1447.80" width="15.60" height="45.10" fill="#060808"/>
<line x1="854.10" y1="1446.00" x2="854.10" y2="1448.90" stroke="#ed1c24" stroke-width="2.5" />
<line x1="848.40" y1="1446.00" x2="859.80" y2="1446.00" stroke="#ed1c24" stroke-width="2.6" />
<rect x="843.10" y="1447.90" width="21.90" height="45.00" fill="#ed1c24"/>
<line x1="907.40" y1="1312.20" x2="907.40" y2="1322.10" stroke="#3a3a3a" stroke-width="2.5" />
<line x1="901.70" y1="1312.20" x2="913.10" y2="1312.20" stroke="#3a3a3a" stroke-width="2.6" />
<rect x="897.00" y="1321.10" width="20.80" height="171.80" fill="#3a3a3a"/>
<rect x="899.60" y="1323.70" width="15.60" height="169.20" fill="#060808"/>
<line x1="939.60" y1="1299.90" x2="939.60" y2="1317.10" stroke="#ed1c24" stroke-width="2.5" />
<line x1="933.90" y1="1299.90" x2="945.30" y2="1299.90" stroke="#ed1c24" stroke-width="2.6" />
<rect x="928.60" y="1316.10" width="21.90" height="176.80" fill="#ed1c24"/>
<line x1="992.40" y1="1414.50" x2="992.40" y2="1435.50" stroke="#3a3a3a" stroke-width="2.5" />
<line x1="986.70" y1="1414.50" x2="998.10" y2="1414.50" stroke="#3a3a3a" stroke-width="2.6" />
<rect x="982.00" y="1434.50" width="20.80" height="58.40" fill="#3a3a3a"/>
<rect x="984.60" y="1437.10" width="15.60" height="55.80" fill="#060808"/>
<line x1="1024.60" y1="1391.00" x2="1024.60" y2="1406.60" stroke="#ed1c24" stroke-width="2.5" />
<line x1="1018.90" y1="1391.00" x2="1030.30" y2="1391.00" stroke="#ed1c24" stroke-width="2.6" />
<rect x="1013.60" y="1405.60" width="21.90" height="87.30" fill="#ed1c24"/>
<line x1="1077.50" y1="1356.80" x2="1077.50" y2="1364.40" stroke="#3a3a3a" stroke-width="2.5" />
<line x1="1071.80" y1="1356.80" x2="1083.20" y2="1356.80" stroke="#3a3a3a" stroke-width="2.6" />
<rect x="1067.10" y="1363.40" width="20.80" height="129.50" fill="#3a3a3a"/>
<rect x="1069.70" y="1366.00" width="15.60" height="126.90" fill="#060808"/>
<line x1="1109.70" y1="1286.50" x2="1109.70" y2="1293.30" stroke="#ed1c24" stroke-width="2.5" />
<line x1="1104.00" y1="1286.50" x2="1115.40" y2="1286.50" stroke="#ed1c24" stroke-width="2.6" />
<rect x="1098.70" y="1292.30" width="21.90" height="200.60" fill="#ed1c24"/>
<text x="1020.70" y="1388.03" font-size="20.00" font-family='"Liberation Sans", sans-serif' font-weight="normal" font-style="normal" fill="#1a1a1a" stroke="#1a1a1a" stroke-width="0.15" stroke-linejoin="round">*</text>
<text x="1101.90" y="1284.33" font-size="20.00" font-family='"Liberation Sans", sans-serif' font-weight="normal" font-style="normal" fill="#1a1a1a" stroke="#1a1a1a" stroke-width="0.15" stroke-linejoin="round">**</text>
<text x="877.56" y="1239.95" font-size="25.26" letter-spacing="1.368" font-family='"Liberation Sans", sans-serif' font-weight="bold" font-style="italic" fill="#000">AeMES</text>
<text transform="translate(629.28,1473.81) rotate(-90) scale(1.1397,1)" font-size="23.57" font-family='"Liberation Sans", sans-serif' font-weight="normal" font-style="normal" fill="#000" stroke="#000" stroke-width="0.95" stroke-linejoin="round">Relative expressin</text>
<line x1="116.50" y1="1573.50" x2="116.50" y2="1829.40" stroke="#000" stroke-width="2.8" />
<line x1="109.00" y1="1828.20" x2="533.00" y2="1828.20" stroke="#000" stroke-width="2.8" />
<line x1="109.00" y1="1828.20" x2="116.50" y2="1828.20" stroke="#000" stroke-width="2.3" />
<text transform="translate(51.69,1834.80) scale(1.0200,1)" font-size="20.50" font-family='"Liberation Sans", sans-serif' font-weight="bold" font-style="normal" fill="#000">0.000</text>
<line x1="109.00" y1="1777.50" x2="116.50" y2="1777.50" stroke="#000" stroke-width="2.3" />
<text transform="translate(51.48,1784.10) scale(1.0200,1)" font-size="20.50" font-family='"Liberation Sans", sans-serif' font-weight="bold" font-style="normal" fill="#000">0.005</text>
<line x1="109.00" y1="1726.80" x2="116.50" y2="1726.80" stroke="#000" stroke-width="2.3" />
<text transform="translate(51.69,1733.40) scale(1.0200,1)" font-size="20.50" font-family='"Liberation Sans", sans-serif' font-weight="bold" font-style="normal" fill="#000">0.010</text>
<line x1="109.00" y1="1676.10" x2="116.50" y2="1676.10" stroke="#000" stroke-width="2.3" />
<text transform="translate(51.48,1682.70) scale(1.0200,1)" font-size="20.50" font-family='"Liberation Sans", sans-serif' font-weight="bold" font-style="normal" fill="#000">0.015</text>
<line x1="109.00" y1="1625.40" x2="116.50" y2="1625.40" stroke="#000" stroke-width="2.3" />
<text transform="translate(51.69,1632.00) scale(1.0200,1)" font-size="20.50" font-family='"Liberation Sans", sans-serif' font-weight="bold" font-style="normal" fill="#000">0.020</text>
<line x1="109.00" y1="1574.70" x2="116.50" y2="1574.70" stroke="#000" stroke-width="2.3" />
<text transform="translate(51.48,1581.30) scale(1.0200,1)" font-size="20.50" font-family='"Liberation Sans", sans-serif' font-weight="bold" font-style="normal" fill="#000">0.025</text>
<line x1="154.55" y1="1828.20" x2="154.55" y2="1835.20" stroke="#000" stroke-width="2.6" />
<text transform="translate(148.46,1855.20) scale(1.1500,1)" font-size="20.50" font-family='"Liberation Serif", serif' font-weight="bold" font-style="normal" fill="#111">0</text>
<line x1="239.20" y1="1828.20" x2="239.20" y2="1835.20" stroke="#000" stroke-width="2.6" />
<text transform="translate(233.07,1855.20) scale(1.1500,1)" font-size="20.50" font-family='"Liberation Serif", serif' font-weight="bold" font-style="normal" fill="#111">3</text>
<line x1="323.95" y1="1828.20" x2="323.95" y2="1835.20" stroke="#000" stroke-width="2.6" />
<text transform="translate(317.82,1855.20) scale(1.1500,1)" font-size="20.50" font-family='"Liberation Serif", serif' font-weight="bold" font-style="normal" fill="#111">6</text>
<line x1="408.70" y1="1828.20" x2="408.70" y2="1835.20" stroke="#000" stroke-width="2.6" />
<text transform="translate(402.72,1855.20) scale(1.1500,1)" font-size="20.50" font-family='"Liberation Serif", serif' font-weight="bold" font-style="normal" fill="#111">9</text>
<line x1="493.60" y1="1828.20" x2="493.60" y2="1835.20" stroke="#000" stroke-width="2.6" />
<text transform="translate(482.23,1855.20) scale(1.0000,1)" font-size="20.00" font-family='"Liberation Sans", sans-serif' font-weight="bold" font-style="normal" fill="#000">12</text>
<line x1="138.95" y1="1751.60" x2="138.95" y2="1772.70" stroke="#060808" stroke-width="2.5" />
<line x1="133.25" y1="1751.60" x2="144.65" y2="1751.60" stroke="#060808" stroke-width="2.6" />
<rect x="128.55" y="1771.70" width="20.80" height="56.50" fill="#060808"/>
<line x1="171.15" y1="1751.60" x2="171.15" y2="1772.70" stroke="#ed1c24" stroke-width="2.5" />
<line x1="165.45" y1="1751.60" x2="176.85" y2="1751.60" stroke="#ed1c24" stroke-width="2.6" />
<rect x="160.15" y="1771.70" width="21.90" height="56.50" fill="#ed1c24"/>
<line x1="223.60" y1="1742.30" x2="223.60" y2="1766.50" stroke="#060808" stroke-width="2.5" />
<line x1="217.90" y1="1742.30" x2="229.30" y2="1742.30" stroke="#060808" stroke-width="2.6" />
<rect x="213.20" y="1765.50" width="20.80" height="62.70" fill="#060808"/>
<line x1="255.80" y1="1756.20" x2="255.80" y2="1764.60" stroke="#ed1c24" stroke-width="2.5" />
<line x1="250.10" y1="1756.20" x2="261.50" y2="1756.20" stroke="#ed1c24" stroke-width="2.6" />
<rect x="244.80" y="1763.60" width="21.90" height="64.60" fill="#ed1c24"/>
<line x1="308.35" y1="1651.30" x2="308.35" y2="1657.70" stroke="#060808" stroke-width="2.5" />
<line x1="302.65" y1="1651.30" x2="314.05" y2="1651.30" stroke="#060808" stroke-width="2.6" />
<rect x="297.95" y="1656.70" width="20.80" height="171.50" fill="#060808"/>
<line x1="340.55" y1="1702.00" x2="340.55" y2="1714.60" stroke="#ed1c24" stroke-width="2.5" />
<line x1="334.85" y1="1702.00" x2="346.25" y2="1702.00" stroke="#ed1c24" stroke-width="2.6" />
<rect x="329.55" y="1713.60" width="21.90" height="114.60" fill="#ed1c24"/>
<line x1="393.10" y1="1641.70" x2="393.10" y2="1656.20" stroke="#060808" stroke-width="2.5" />
<line x1="387.40" y1="1641.70" x2="398.80" y2="1641.70" stroke="#060808" stroke-width="2.6" />
<rect x="382.70" y="1655.20" width="20.80" height="173.00" fill="#060808"/>
<line x1="425.30" y1="1683.10" x2="425.30" y2="1716.60" stroke="#ed1c24" stroke-width="2.5" />
<line x1="419.60" y1="1683.10" x2="431.00" y2="1683.10" stroke="#ed1c24" stroke-width="2.6" />
<rect x="414.30" y="1715.60" width="21.90" height="112.60" fill="#ed1c24"/>
<line x1="478.00" y1="1615.00" x2="478.00" y2="1626.80" stroke="#060808" stroke-width="2.5" />
<line x1="472.30" y1="1615.00" x2="483.70" y2="1615.00" stroke="#060808" stroke-width="2.6" />
<rect x="467.60" y="1625.80" width="20.80" height="202.40" fill="#060808"/>
<line x1="510.20" y1="1606.40" x2="510.20" y2="1622.90" stroke="#ed1c24" stroke-width="2.5" />
<line x1="504.50" y1="1606.40" x2="515.90" y2="1606.40" stroke="#ed1c24" stroke-width="2.6" />
<rect x="499.20" y="1621.90" width="21.90" height="206.30" fill="#ed1c24"/>
<text x="336.65" y="1698.23" font-size="20.00" font-family='"Liberation Sans", sans-serif' font-weight="normal" font-style="normal" fill="#1a1a1a" stroke="#1a1a1a" stroke-width="0.15" stroke-linejoin="round">*</text>
<text x="421.40" y="1680.43" font-size="20.00" font-family='"Liberation Sans", sans-serif' font-weight="normal" font-style="normal" fill="#1a1a1a" stroke="#1a1a1a" stroke-width="0.15" stroke-linejoin="round">*</text>
<text x="279.48" y="1581.85" font-size="26.56" letter-spacing="-0.408" font-family='"Liberation Sans", sans-serif' font-weight="bold" font-style="italic" fill="#000">AeDAO</text>
<text transform="translate(34.78,1815.40) rotate(-90) scale(1.1016,1)" font-size="24.26" font-family='"Liberation Sans", sans-serif' font-weight="normal" font-style="normal" fill="#000" stroke="#000" stroke-width="0.95" stroke-linejoin="round">Relative expressin</text>
<line x1="715.60" y1="1573.40" x2="715.60" y2="1830.20" stroke="#000" stroke-width="2.8" />
<line x1="708.10" y1="1829.00" x2="1131.00" y2="1829.00" stroke="#000" stroke-width="2.8" />
<line x1="708.10" y1="1829.00" x2="715.60" y2="1829.00" stroke="#000" stroke-width="2.3" />
<text transform="translate(662.43,1835.60) scale(1.0200,1)" font-size="20.50" font-family='"Liberation Sans", sans-serif' font-weight="bold" font-style="normal" fill="#000">0.00</text>
<line x1="708.10" y1="1744.20" x2="715.60" y2="1744.20" stroke="#000" stroke-width="2.3" />
<text transform="translate(662.15,1750.80) scale(1.0200,1)" font-size="20.50" font-family='"Liberation Sans", sans-serif' font-weight="bold" font-style="normal" fill="#000">0.01</text>
<line x1="708.10" y1="1659.40" x2="715.60" y2="1659.40" stroke="#000" stroke-width="2.3" />
<text transform="translate(662.43,1666.00) scale(1.0200,1)" font-size="20.50" font-family='"Liberation Sans", sans-serif' font-weight="bold" font-style="normal" fill="#000">0.02</text>
<line x1="708.10" y1="1574.60" x2="715.60" y2="1574.60" stroke="#000" stroke-width="2.3" />
<text transform="translate(662.36,1581.20) scale(1.0200,1)" font-size="20.50" font-family='"Liberation Sans", sans-serif' font-weight="bold" font-style="normal" fill="#000">0.03</text>
<line x1="752.60" y1="1829.00" x2="752.60" y2="1836.00" stroke="#000" stroke-width="2.6" />
<text transform="translate(746.51,1856.00) scale(1.1500,1)" font-size="20.50" font-family='"Liberation Serif", serif' font-weight="bold" font-style="normal" fill="#111">0</text>
<line x1="837.30" y1="1829.00" x2="837.30" y2="1836.00" stroke="#000" stroke-width="2.6" />
<text transform="translate(831.17,1856.00) scale(1.1500,1)" font-size="20.50" font-family='"Liberation Serif", serif' font-weight="bold" font-style="normal" fill="#111">3</text>
<line x1="921.95" y1="1829.00" x2="921.95" y2="1836.00" stroke="#000" stroke-width="2.6" />
<text transform="translate(915.82,1856.00) scale(1.1500,1)" font-size="20.50" font-family='"Liberation Serif", serif' font-weight="bold" font-style="normal" fill="#111">6</text>
<line x1="1006.30" y1="1829.00" x2="1006.30" y2="1836.00" stroke="#000" stroke-width="2.6" />
<text transform="translate(1000.32,1856.00) scale(1.1500,1)" font-size="20.50" font-family='"Liberation Serif", serif' font-weight="bold" font-style="normal" fill="#111">9</text>
<line x1="1091.40" y1="1829.00" x2="1091.40" y2="1836.00" stroke="#000" stroke-width="2.6" />
<text transform="translate(1080.03,1856.00) scale(1.0000,1)" font-size="20.00" font-family='"Liberation Sans", sans-serif' font-weight="bold" font-style="normal" fill="#000">12</text>
<line x1="737.00" y1="1646.90" x2="737.00" y2="1662.80" stroke="#060808" stroke-width="2.5" />
<line x1="731.30" y1="1646.90" x2="742.70" y2="1646.90" stroke="#060808" stroke-width="2.6" />
<rect x="726.60" y="1661.80" width="20.80" height="167.20" fill="#060808"/>
<line x1="769.20" y1="1646.90" x2="769.20" y2="1662.80" stroke="#ed1c24" stroke-width="2.5" />
<line x1="763.50" y1="1646.90" x2="774.90" y2="1646.90" stroke="#ed1c24" stroke-width="2.6" />
<rect x="758.20" y="1661.80" width="21.90" height="167.20" fill="#ed1c24"/>
<line x1="821.70" y1="1624.60" x2="821.70" y2="1647.50" stroke="#060808" stroke-width="2.5" />
<line x1="816.00" y1="1624.60" x2="827.40" y2="1624.60" stroke="#060808" stroke-width="2.6" />
<rect x="811.30" y="1646.50" width="20.80" height="182.50" fill="#060808"/>
<line x1="853.90" y1="1647.20" x2="853.90" y2="1657.80" stroke="#ed1c24" stroke-width="2.5" />
<line x1="848.20" y1="1647.20" x2="859.60" y2="1647.20" stroke="#ed1c24" stroke-width="2.6" />
<rect x="842.90" y="1656.80" width="21.90" height="172.20" fill="#ed1c24"/>
<line x1="906.35" y1="1815.80" x2="906.35" y2="1819.70" stroke="#060808" stroke-width="2.5" />
<line x1="900.65" y1="1815.80" x2="912.05" y2="1815.80" stroke="#060808" stroke-width="2.6" />
<rect x="895.95" y="1818.70" width="20.80" height="10.30" fill="#060808"/>
<line x1="938.55" y1="1798.30" x2="938.55" y2="1801.80" stroke="#ed1c24" stroke-width="2.5" />
<line x1="932.85" y1="1798.30" x2="944.25" y2="1798.30" stroke="#ed1c24" stroke-width="2.6" />
<rect x="927.55" y="1800.80" width="21.90" height="28.20" fill="#ed1c24"/>
<line x1="990.70" y1="1809.90" x2="990.70" y2="1814.40" stroke="#060808" stroke-width="2.5" />
<line x1="985.00" y1="1809.90" x2="996.40" y2="1809.90" stroke="#060808" stroke-width="2.6" />
<rect x="980.30" y="1813.40" width="20.80" height="15.60" fill="#060808"/>
<line x1="1022.90" y1="1798.30" x2="1022.90" y2="1801.80" stroke="#ed1c24" stroke-width="2.5" />
<line x1="1017.20" y1="1798.30" x2="1028.60" y2="1798.30" stroke="#ed1c24" stroke-width="2.6" />
<rect x="1011.90" y="1800.80" width="21.90" height="28.20" fill="#ed1c24"/>
<line x1="1075.80" y1="1816.30" x2="1075.80" y2="1819.30" stroke="#060808" stroke-width="2.5" />
<line x1="1070.10" y1="1816.30" x2="1081.50" y2="1816.30" stroke="#060808" stroke-width="2.6" />
<rect x="1065.40" y="1818.30" width="20.80" height="10.70" fill="#060808"/>
<line x1="1108.00" y1="1812.40" x2="1108.00" y2="1816.00" stroke="#ed1c24" stroke-width="2.5" />
<line x1="1102.30" y1="1812.40" x2="1113.70" y2="1812.40" stroke="#ed1c24" stroke-width="2.6" />
<rect x="1097.00" y="1815.00" width="21.90" height="14.00" fill="#ed1c24"/>
<text x="934.65" y="1796.03" font-size="20.00" font-family='"Liberation Sans", sans-serif' font-weight="normal" font-style="normal" fill="#1a1a1a" stroke="#1a1a1a" stroke-width="0.15" stroke-linejoin="round">*</text>
<text x="853.68" y="1582.95" font-size="26.41" letter-spacing="0.126" font-family='"Liberation Sans", sans-serif' font-weight="bold" font-style="italic" fill="#000">AeSAUR50</text>
<text transform="translate(637.08,1804.31) rotate(-90) scale(1.1067,1)" font-size="24.26" font-family='"Liberation Sans", sans-serif' font-weight="normal" font-style="normal" fill="#000" stroke="#000" stroke-width="0.95" stroke-linejoin="round">Relative expressin</text>
<line x1="116.50" y1="1901.20" x2="116.50" y2="2159.40" stroke="#000" stroke-width="2.8" />
<line x1="109.00" y1="2158.20" x2="535.50" y2="2158.20" stroke="#000" stroke-width="2.8" />
<line x1="109.00" y1="2158.20" x2="116.50" y2="2158.20" stroke="#000" stroke-width="2.3" />
<text transform="translate(51.69,2164.80) scale(1.0200,1)" font-size="20.50" font-family='"Liberation Sans", sans-serif' font-weight="bold" font-style="normal" fill="#000">0.000</text>
<line x1="109.00" y1="2107.04" x2="116.50" y2="2107.04" stroke="#000" stroke-width="2.3" />
<text transform="translate(51.41,2113.64) scale(1.0200,1)" font-size="20.50" font-family='"Liberation Sans", sans-serif' font-weight="bold" font-style="normal" fill="#000">0.001</text>
<line x1="109.00" y1="2055.88" x2="116.50" y2="2055.88" stroke="#000" stroke-width="2.3" />
<text transform="translate(51.69,2062.48) scale(1.0200,1)" font-size="20.50" font-family='"Liberation Sans", sans-serif' font-weight="bold" font-style="normal" fill="#000">0.002</text>
<line x1="109.00" y1="2004.72" x2="116.50" y2="2004.72" stroke="#000" stroke-width="2.3" />
<text transform="translate(51.62,2011.32) scale(1.0200,1)" font-size="20.50" font-family='"Liberation Sans", sans-serif' font-weight="bold" font-style="normal" fill="#000">0.003</text>
<line x1="109.00" y1="1953.56" x2="116.50" y2="1953.56" stroke="#000" stroke-width="2.3" />
<text transform="translate(50.99,1960.16) scale(1.0200,1)" font-size="20.50" font-family='"Liberation Sans", sans-serif' font-weight="bold" font-style="normal" fill="#000">0.004</text>
<line x1="109.00" y1="1902.40" x2="116.50" y2="1902.40" stroke="#000" stroke-width="2.3" />
<text transform="translate(51.48,1909.00) scale(1.0200,1)" font-size="20.50" font-family='"Liberation Sans", sans-serif' font-weight="bold" font-style="normal" fill="#000">0.005</text>
<line x1="154.55" y1="2158.20" x2="154.55" y2="2165.20" stroke="#000" stroke-width="2.6" />
<text transform="translate(148.46,2185.20) scale(1.1500,1)" font-size="20.50" font-family='"Liberation Serif", serif' font-weight="bold" font-style="normal" fill="#111">0</text>
<line x1="239.20" y1="2158.20" x2="239.20" y2="2165.20" stroke="#000" stroke-width="2.6" />
<text transform="translate(233.07,2185.20) scale(1.1500,1)" font-size="20.50" font-family='"Liberation Serif", serif' font-weight="bold" font-style="normal" fill="#111">3</text>
<line x1="325.40" y1="2158.20" x2="325.40" y2="2165.20" stroke="#000" stroke-width="2.6" />
<text transform="translate(319.27,2185.20) scale(1.1500,1)" font-size="20.50" font-family='"Liberation Serif", serif' font-weight="bold" font-style="normal" fill="#111">6</text>
<line x1="410.50" y1="2158.20" x2="410.50" y2="2165.20" stroke="#000" stroke-width="2.6" />
<text transform="translate(404.52,2185.20) scale(1.1500,1)" font-size="20.50" font-family='"Liberation Serif", serif' font-weight="bold" font-style="normal" fill="#111">9</text>
<line x1="496.80" y1="2158.20" x2="496.80" y2="2165.20" stroke="#000" stroke-width="2.6" />
<text transform="translate(485.43,2185.20) scale(1.0000,1)" font-size="20.00" font-family='"Liberation Sans", sans-serif' font-weight="bold" font-style="normal" fill="#000">12</text>
<line x1="138.95" y1="2111.70" x2="138.95" y2="2124.40" stroke="#060808" stroke-width="2.5" />
<line x1="133.25" y1="2111.70" x2="144.65" y2="2111.70" stroke="#060808" stroke-width="2.6" />
<rect x="128.55" y="2123.40" width="20.80" height="34.80" fill="#060808"/>
<line x1="171.15" y1="2111.70" x2="171.15" y2="2124.40" stroke="#ed1c24" stroke-width="2.5" />
<line x1="165.45" y1="2111.70" x2="176.85" y2="2111.70" stroke="#ed1c24" stroke-width="2.6" />
<rect x="160.15" y="2123.40" width="21.90" height="34.80" fill="#ed1c24"/>
<line x1="223.60" y1="2109.40" x2="223.60" y2="2116.20" stroke="#060808" stroke-width="2.5" />
<line x1="217.90" y1="2109.40" x2="229.30" y2="2109.40" stroke="#060808" stroke-width="2.6" />
<rect x="213.20" y="2115.20" width="20.80" height="43.00" fill="#060808"/>
<line x1="255.80" y1="2106.70" x2="255.80" y2="2114.70" stroke="#ed1c24" stroke-width="2.5" />
<line x1="250.10" y1="2106.70" x2="261.50" y2="2106.70" stroke="#ed1c24" stroke-width="2.6" />
<rect x="244.80" y="2113.70" width="21.90" height="44.50" fill="#ed1c24"/>
<line x1="309.80" y1="2085.40" x2="309.80" y2="2096.10" stroke="#060808" stroke-width="2.5" />
<line x1="304.10" y1="2085.40" x2="315.50" y2="2085.40" stroke="#060808" stroke-width="2.6" />
<rect x="299.40" y="2095.10" width="20.80" height="63.10" fill="#060808"/>
<line x1="342.00" y1="2097.00" x2="342.00" y2="2114.70" stroke="#ed1c24" stroke-width="2.5" />
<line x1="336.30" y1="2097.00" x2="347.70" y2="2097.00" stroke="#ed1c24" stroke-width="2.6" />
<rect x="331.00" y="2113.70" width="21.90" height="44.50" fill="#ed1c24"/>
<line x1="394.90" y1="1959.70" x2="394.90" y2="1973.40" stroke="#060808" stroke-width="2.5" />
<line x1="389.20" y1="1959.70" x2="400.60" y2="1959.70" stroke="#060808" stroke-width="2.6" />
<rect x="384.50" y="1972.40" width="20.80" height="185.80" fill="#060808"/>
<line x1="427.10" y1="1953.90" x2="427.10" y2="1961.00" stroke="#ed1c24" stroke-width="2.5" />
<line x1="421.40" y1="1953.90" x2="432.80" y2="1953.90" stroke="#ed1c24" stroke-width="2.6" />
<rect x="416.10" y="1960.00" width="21.90" height="198.20" fill="#ed1c24"/>
<line x1="481.20" y1="1927.90" x2="481.20" y2="1940.50" stroke="#060808" stroke-width="2.5" />
<line x1="475.50" y1="1927.90" x2="486.90" y2="1927.90" stroke="#060808" stroke-width="2.6" />
<rect x="470.80" y="1939.50" width="20.80" height="218.70" fill="#060808"/>
<line x1="513.40" y1="1947.30" x2="513.40" y2="1951.80" stroke="#ed1c24" stroke-width="2.5" />
<line x1="507.70" y1="1947.30" x2="519.10" y2="1947.30" stroke="#ed1c24" stroke-width="2.6" />
<rect x="502.40" y="1950.80" width="21.90" height="207.40" fill="#ed1c24"/>
<text x="255.98" y="1913.15" font-size="26.56" letter-spacing="0.090" font-family='"Liberation Sans", sans-serif' font-weight="bold" font-style="italic" fill="#000">AeSAUR62</text>
<text transform="translate(20.07,2133.82) rotate(-90) scale(1.1491,1)" font-size="23.43" font-family='"Liberation Sans", sans-serif' font-weight="normal" font-style="normal" fill="#000" stroke="#000" stroke-width="0.95" stroke-linejoin="round">Relative expressin</text>
<line x1="715.60" y1="1901.10" x2="715.60" y2="2159.10" stroke="#000" stroke-width="2.8" />
<line x1="708.10" y1="2157.90" x2="1134.30" y2="2157.90" stroke="#000" stroke-width="2.8" />
<line x1="708.10" y1="2157.90" x2="715.60" y2="2157.90" stroke="#000" stroke-width="2.3" />
<text transform="translate(650.79,2164.50) scale(1.0200,1)" font-size="20.50" font-family='"Liberation Sans", sans-serif' font-weight="bold" font-style="normal" fill="#000">0.000</text>
<line x1="708.10" y1="2072.70" x2="715.60" y2="2072.70" stroke="#000" stroke-width="2.3" />
<text transform="translate(650.51,2079.30) scale(1.0200,1)" font-size="20.50" font-family='"Liberation Sans", sans-serif' font-weight="bold" font-style="normal" fill="#000">0.001</text>
<line x1="708.10" y1="1987.50" x2="715.60" y2="1987.50" stroke="#000" stroke-width="2.3" />
<text transform="translate(650.79,1994.10) scale(1.0200,1)" font-size="20.50" font-family='"Liberation Sans", sans-serif' font-weight="bold" font-style="normal" fill="#000">0.002</text>
<line x1="708.10" y1="1902.30" x2="715.60" y2="1902.30" stroke="#000" stroke-width="2.3" />
<text transform="translate(650.72,1908.90) scale(1.0200,1)" font-size="20.50" font-family='"Liberation Sans", sans-serif' font-weight="bold" font-style="normal" fill="#000">0.003</text>
<line x1="752.40" y1="2157.90" x2="752.40" y2="2164.90" stroke="#000" stroke-width="2.6" />
<text transform="translate(746.31,2184.90) scale(1.1500,1)" font-size="20.50" font-family='"Liberation Serif", serif' font-weight="bold" font-style="normal" fill="#111">0</text>
<line x1="838.50" y1="2157.90" x2="838.50" y2="2164.90" stroke="#000" stroke-width="2.6" />
<text transform="translate(832.37,2184.90) scale(1.1500,1)" font-size="20.50" font-family='"Liberation Serif", serif' font-weight="bold" font-style="normal" fill="#111">3</text>
<line x1="923.45" y1="2157.90" x2="923.45" y2="2164.90" stroke="#000" stroke-width="2.6" />
<text transform="translate(917.32,2184.90) scale(1.1500,1)" font-size="20.50" font-family='"Liberation Serif", serif' font-weight="bold" font-style="normal" fill="#111">6</text>
<line x1="1009.70" y1="2157.90" x2="1009.70" y2="2164.90" stroke="#000" stroke-width="2.6" />
<text transform="translate(1003.72,2184.90) scale(1.1500,1)" font-size="20.50" font-family='"Liberation Serif", serif' font-weight="bold" font-style="normal" fill="#111">9</text>
<line x1="1094.65" y1="2157.90" x2="1094.65" y2="2164.90" stroke="#000" stroke-width="2.6" />
<text transform="translate(1083.28,2184.90) scale(1.0000,1)" font-size="20.00" font-family='"Liberation Sans", sans-serif' font-weight="bold" font-style="normal" fill="#000">12</text>
<line x1="736.80" y1="2113.70" x2="736.80" y2="2119.70" stroke="#060808" stroke-width="2.5" />
<line x1="731.10" y1="2113.70" x2="742.50" y2="2113.70" stroke="#060808" stroke-width="2.6" />
<rect x="726.40" y="2118.70" width="20.80" height="39.20" fill="#060808"/>
<line x1="769.00" y1="2113.70" x2="769.00" y2="2119.70" stroke="#ed1c24" stroke-width="2.5" />
<line x1="763.30" y1="2113.70" x2="774.70" y2="2113.70" stroke="#ed1c24" stroke-width="2.6" />
<rect x="758.00" y="2118.70" width="21.90" height="39.20" fill="#ed1c24"/>
<line x1="822.90" y1="2060.60" x2="822.90" y2="2074.30" stroke="#060808" stroke-width="2.5" />
<line x1="817.20" y1="2060.60" x2="828.60" y2="2060.60" stroke="#060808" stroke-width="2.6" />
<rect x="812.50" y="2073.30" width="20.80" height="84.60" fill="#060808"/>
<line x1="855.10" y1="1923.80" x2="855.10" y2="1942.10" stroke="#ed1c24" stroke-width="2.5" />
<line x1="849.40" y1="1923.80" x2="860.80" y2="1923.80" stroke="#ed1c24" stroke-width="2.6" />
<rect x="844.10" y="1941.10" width="21.90" height="216.80" fill="#ed1c24"/>
<line x1="907.85" y1="2051.40" x2="907.85" y2="2057.00" stroke="#060808" stroke-width="2.5" />
<line x1="902.15" y1="2051.40" x2="913.55" y2="2051.40" stroke="#060808" stroke-width="2.6" />
<rect x="897.45" y="2056.00" width="20.80" height="101.90" fill="#060808"/>
<line x1="940.05" y1="2032.20" x2="940.05" y2="2047.40" stroke="#ed1c24" stroke-width="2.5" />
<line x1="934.35" y1="2032.20" x2="945.75" y2="2032.20" stroke="#ed1c24" stroke-width="2.6" />
<rect x="929.05" y="2046.40" width="21.90" height="111.50" fill="#ed1c24"/>
<line x1="994.10" y1="2116.00" x2="994.10" y2="2119.70" stroke="#060808" stroke-width="2.5" />
<line x1="988.40" y1="2116.00" x2="999.80" y2="2116.00" stroke="#060808" stroke-width="2.6" />
<rect x="983.70" y="2118.70" width="20.80" height="39.20" fill="#060808"/>
<line x1="1026.30" y1="2075.60" x2="1026.30" y2="2083.20" stroke="#ed1c24" stroke-width="2.5" />
<line x1="1020.60" y1="2075.60" x2="1032.00" y2="2075.60" stroke="#ed1c24" stroke-width="2.6" />
<rect x="1015.30" y="2082.20" width="21.90" height="75.70" fill="#ed1c24"/>
<line x1="1079.05" y1="2116.70" x2="1079.05" y2="2122.70" stroke="#060808" stroke-width="2.5" />
<line x1="1073.35" y1="2116.70" x2="1084.75" y2="2116.70" stroke="#060808" stroke-width="2.6" />
<rect x="1068.65" y="2121.70" width="20.80" height="36.20" fill="#060808"/>
<line x1="1111.25" y1="2102.50" x2="1111.25" y2="2113.10" stroke="#ed1c24" stroke-width="2.5" />
<line x1="1105.55" y1="2102.50" x2="1116.95" y2="2102.50" stroke="#ed1c24" stroke-width="2.6" />
<rect x="1100.25" y="2112.10" width="21.90" height="45.80" fill="#ed1c24"/>
<text x="843.40" y="1920.43" font-size="20.00" font-family='"Liberation Sans", sans-serif' font-weight="normal" font-style="normal" fill="#1a1a1a" stroke="#1a1a1a" stroke-width="0.15" stroke-linejoin="round">***</text>
<text x="1018.50" y="2073.03" font-size="20.00" font-family='"Liberation Sans", sans-serif' font-weight="normal" font-style="normal" fill="#1a1a1a" stroke="#1a1a1a" stroke-width="0.15" stroke-linejoin="round">**</text>
<text x="1107.35" y="2099.93" font-size="20.00" font-family='"Liberation Sans", sans-serif' font-weight="normal" font-style="normal" fill="#1a1a1a" stroke="#1a1a1a" stroke-width="0.15" stroke-linejoin="round">*</text>
<text x="985.05" y="1907.65" font-size="24.83" letter-spacing="1.474" font-family='"Liberation Sans", sans-serif' font-weight="bold" font-style="italic" fill="#000">AeSAUR71</text>
<text transform="translate(625.48,2140.90) rotate(-90) scale(1.1747,1)" font-size="22.74" font-family='"Liberation Sans", sans-serif' font-weight="normal" font-style="normal" fill="#000" stroke="#000" stroke-width="0.95" stroke-linejoin="round">Relative expressin</text>
<rect x="197.50" y="912.40" width="29.40" height="12.40" fill="#060808"/>
<rect x="197.50" y="940.60" width="29.40" height="13.80" fill="#ed1c24"/>
<text transform="translate(243.56,924.53) scale(1.0701,1)" font-size="20.89" font-family='"Liberation Sans", sans-serif' font-weight="normal" font-style="normal" fill="#1c1c1c" stroke="#1c1c1c" stroke-width="0.45" stroke-linejoin="round">CK</text>
<text transform="translate(242.75,953.93) scale(1.0938,1)" font-size="21.08" font-family='"Liberation Sans", sans-serif' font-weight="normal" font-style="normal" fill="#262626" stroke="#262626" stroke-width="0.45" stroke-linejoin="round">Melatonin</text>
<text transform="translate(211.35,2219.75) scale(1.1567,1)" font-size="23.09" font-family='"Liberation Sans", sans-serif' font-weight="bold" font-style="normal" fill="#000">Storage time (days)</text>
<text transform="translate(800.15,2218.55) scale(1.1675,1)" font-size="22.95" font-family='"Liberation Sans", sans-serif' font-weight="bold" font-style="normal" fill="#000">Storage time (days)</text>
</g>
</svg>
</body></html>
